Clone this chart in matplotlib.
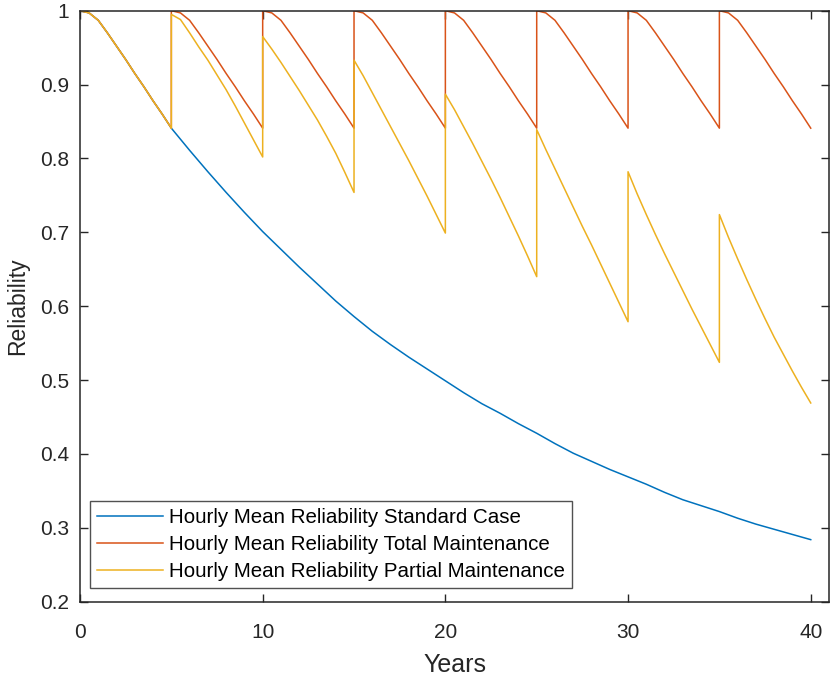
import numpy as np
import matplotlib
matplotlib.use("Agg")
import matplotlib.pyplot as plt

# ---- data ----
# one 5-year decay profile (0..5 years in 0.5 steps) used by the total-maintenance series
seg_t = [0.0, 0.5, 1.0, 1.5, 2.0, 2.5, 3.0, 3.5, 4.0, 4.5, 5.0]
red_seg = [1.000, 0.997, 0.987, 0.970, 0.952, 0.934, 0.915, 0.897, 0.878, 0.860, 0.841]
maint_starts = [0, 5, 10, 15, 20, 25, 30, 35]

# standard case (blue)
blue_t = [0, 0.5, 1, 1.5, 2, 2.5, 3, 3.5, 4, 4.5, 5, 6, 7, 8, 9, 10, 11, 12, 13, 14, 15,
          16, 17, 18, 19, 20, 21, 22, 23, 24, 25, 26, 27, 28, 29, 30, 31, 32, 33, 34, 35,
          36, 37, 38, 39, 40]
blue_r = [1.000, 0.997, 0.987, 0.970, 0.952, 0.934, 0.915, 0.897, 0.878, 0.860, 0.841,
          0.811, 0.782, 0.754, 0.727, 0.701, 0.677, 0.653, 0.630, 0.607, 0.586,
          0.566, 0.548, 0.531, 0.515, 0.499, 0.483, 0.468, 0.455, 0.441, 0.428,
          0.414, 0.401, 0.390, 0.379, 0.369, 0.359, 0.348, 0.338, 0.330, 0.322,
          0.313, 0.305, 0.298, 0.291, 0.284]

# partial maintenance (yellow), one list per 5-year interval (0.5-year steps)
yel_0 = [1.000, 0.997, 0.987, 0.970, 0.952, 0.934, 0.915, 0.897, 0.878, 0.860, 0.841]
yel_1 = [0.995, 0.988, 0.970, 0.951, 0.933, 0.913, 0.893, 0.871, 0.848, 0.825, 0.802]
yel_2 = [0.965, 0.948, 0.930, 0.911, 0.892, 0.872, 0.852, 0.830, 0.807, 0.781, 0.754]
yel_3 = [0.933, 0.912, 0.889, 0.866, 0.843, 0.820, 0.797, 0.773, 0.749, 0.724, 0.699]
yel_4 = [0.887, 0.866, 0.843, 0.820, 0.796, 0.772, 0.747, 0.721, 0.695, 0.668, 0.640]
yel_5 = [0.839, 0.812, 0.786, 0.760, 0.734, 0.708, 0.683, 0.657, 0.631, 0.605, 0.579]
yel_6 = [0.782, 0.752, 0.724, 0.697, 0.671, 0.646, 0.621, 0.596, 0.572, 0.548, 0.524]
yel_7 = [0.724, 0.693, 0.664, 0.636, 0.609, 0.583, 0.558, 0.535, 0.512, 0.490, 0.469]
yel_segs = [yel_0, yel_1, yel_2, yel_3, yel_4, yel_5, yel_6, yel_7]

labels = ["Hourly Mean Reliability Standard Case",
          "Hourly Mean Reliability Total Maintenance",
          "Hourly Mean Reliability Partial Maintenance"]
x_ticks = [0, 10, 20, 30, 40]
y_ticks = [0.2, 0.3, 0.4, 0.5, 0.6, 0.7, 0.8, 0.9, 1.0]
y_tick_labels = ["0.2", "0.3", "0.4", "0.5", "0.6", "0.7", "0.8", "0.9", "1"]

# ---- build series ----
red_x, red_y, yel_x, yel_y = [], [], [], []
for s, ys in zip(maint_starts, yel_segs):
    red_x += [s + t for t in seg_t]
    red_y += red_seg
    yel_x += [s + t for t in seg_t]
    yel_y += ys

plt.rcParams['font.family'] = ['Liberation Sans', 'DejaVu Sans']
fig = plt.figure(figsize=(8.31, 6.77), dpi=100)
ax = fig.add_axes([80/831, 1 - 601.7/677, (829 - 80)/831, (601.7 - 10.7)/677])

c_blue, c_red, c_yel = "#0072BD", "#D95319", "#EDB120"
ax.plot(blue_t, blue_r, color=c_blue, lw=1.1, label=labels[0])
ax.plot(red_x, red_y, color=c_red, lw=1.1, label=labels[1])
ax.plot(yel_x, yel_y, color=c_yel, lw=1.1, label=labels[2])

ax.set_xlim(0, 41)
ax.set_ylim(0.2, 1.0)
ax.set_xticks(x_ticks)
ax.set_yticks(y_ticks)
ax.set_yticklabels(y_tick_labels)
dark = "#262626"
ax.tick_params(direction="in", length=6, width=1.0, top=True, right=True,
               labelsize=15, colors=dark, pad=8)
ax.tick_params(axis="x", pad=15)
for sp in ax.spines.values():
    sp.set_color(dark)
    sp.set_linewidth(1.1)
ax.set_xlabel("Years", fontsize=18, color=dark, labelpad=8)
ax.set_ylabel("Reliability", fontsize=16.5, color=dark, labelpad=8)

leg = ax.legend(loc="lower left", bbox_to_anchor=(10/749, 13.7/591), fontsize=14.8,
                frameon=True, fancybox=False, edgecolor=dark, handlelength=3.2,
                handletextpad=0.3, borderpad=0.35, labelspacing=0.38, borderaxespad=0)
leg.get_frame().set_linewidth(1.0)

fig.savefig("out.png", dpi=100)
